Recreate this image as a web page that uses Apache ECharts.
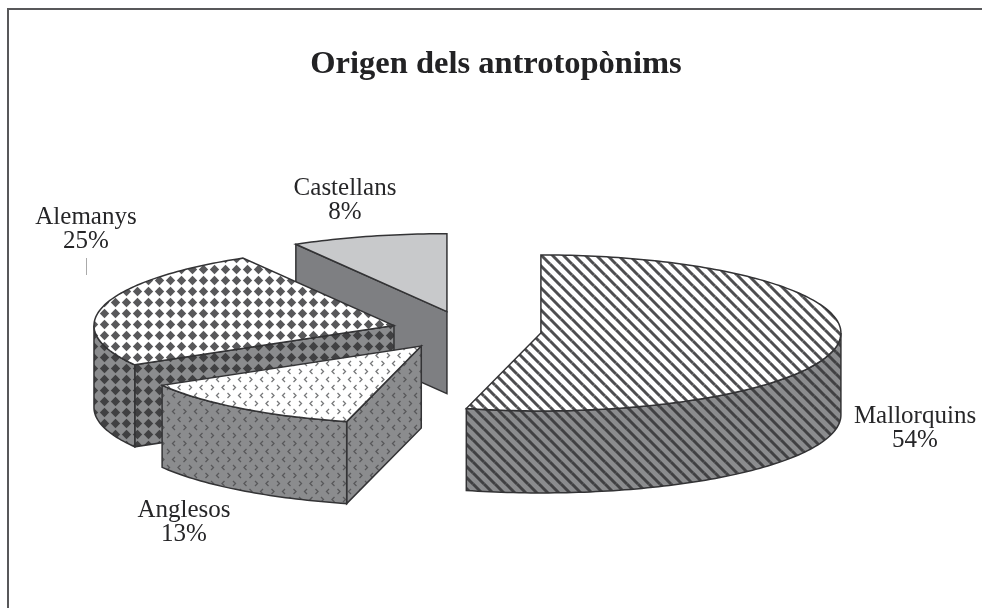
<!DOCTYPE html>
<html><head><meta charset="utf-8">
<style>html,body{margin:0;padding:0;background:#fff}#c{width:982px;height:608px}</style>
<script src="https://cdn.jsdelivr.net/npm/echarts@6/dist/echarts.min.js"></script>
</head><body><div id="c"></div>
<script>
var titleText = 'Origen dels antrotopònims';
var categories = ['Mallorquins', 'Anglesos', 'Alemanys', 'Castellans'];
var values = [54, 12.6, 25, 8.4];

// View of the tilted exploded pie (presentation only)
var view = { cx: 466.5, cy: 330.5, rx: 300, ry: 78, depth: 82, explode: 75 };
var drawRank = [4, 3, 2, 1];
var labelAnchors = [[915, 428], [184, 522], [86, 229], [345, 200]];
var FONT = '"Liberation Serif","Times New Roman",serif';
var INK = '#333335';

function tile(w, h, bg, draw) {
  var c = document.createElement('canvas');
  c.width = w; c.height = h;
  var g = c.getContext('2d');
  g.fillStyle = bg; g.fillRect(0, 0, w, h);
  draw(g);
  return { image: c, repeat: 'repeat' };
}
function stripes(bg, fg) {
  return tile(11, 11, bg, function (g) {
    g.strokeStyle = fg; g.lineWidth = 3;
    [[-11, -11], [0, 0], [-11, 0], [0, -11], [11, 0], [0, 11]].forEach(function (o) {
      g.beginPath(); g.moveTo(o[0], o[1]); g.lineTo(o[0] + 11, o[1] + 11); g.stroke();
    });
  });
}
function diamonds(bg, fg) {
  return tile(11, 11, bg, function (g) {
    g.fillStyle = fg;
    g.beginPath(); g.moveTo(5.5, 0.8); g.lineTo(10.2, 5.5); g.lineTo(5.5, 10.2); g.lineTo(0.8, 5.5); g.closePath(); g.fill();
  });
}
function chevrons(bg, fg) {
  return tile(22, 16, bg, function (g) {
    g.strokeStyle = fg; g.lineWidth = 1.3;
    function lt(x, y) { g.beginPath(); g.moveTo(x + 2.5, y); g.lineTo(x, y + 2.5); g.lineTo(x + 2.5, y + 5); g.stroke(); }
    function gt(x, y) { g.beginPath(); g.moveTo(x, y); g.lineTo(x + 2.5, y + 2.5); g.lineTo(x, y + 5); g.stroke(); }
    lt(2, 1); gt(13, 1); gt(7.5, 9); lt(18.5, 9);
  });
}
var topFill = [stripes('#ffffff', '#4e4e50'), chevrons('#ffffff', '#77787a'), diamonds('#ffffff', '#58585a'), '#c8c9cb'];
var wallFill = [stripes('#8b8c8e', '#414143'), chevrons('#8b8c8e', '#58585a'), diamonds('#8b8c8e', '#404042'), '#7e7f82'];

var total = values.reduce(function (a, b) { return a + b; }, 0);

function renderItem(params, api) {
  var i = params.dataIndex, before = 0;
  for (var k = 0; k < i; k++) before += values[k];
  var a0 = before / total * 2 * Math.PI;
  var a1 = (before + api.value(0)) / total * 2 * Math.PI;
  var mid = (a0 + a1) / 2;
  var ox = view.cx + view.explode * Math.sin(mid);
  var oy = view.cy - view.explode * Math.cos(mid) * view.ry / view.rx;
  function rim(a) { return [ox + view.rx * Math.sin(a), oy - view.ry * Math.cos(a)]; }
  function arc(from, to) {
    var n = Math.max(2, Math.ceil(Math.abs(to - from) / 0.02)), out = [];
    for (var s = 0; s <= n; s++) out.push(rim(from + (to - from) * s / n));
    return out;
  }
  function drop(pts) { return pts.map(function (p) { return [p[0], p[1] + view.depth]; }); }
  var z = drawRank[i] * 10;
  var kids = [];
  function poly(points, fill) {
    kids.push({
      type: 'polygon', shape: { points: points }, z2: z + kids.length,
      style: { fill: fill, stroke: INK, lineWidth: 1.5, lineJoin: 'miter' }
    });
  }
  var apex = [ox, oy];
  var w = wallFill[i];
  // cut face on the start edge, visible when that edge lies left of the axis
  if (a0 > Math.PI) {
    var e0 = [apex, rim(a0)];
    poly(e0.concat(drop(e0).reverse()), w);
  }
  // cut face on the end edge, visible when that edge lies on the front right
  if (a1 < Math.PI) {
    var e1 = [apex, rim(a1)];
    poly(e1.concat(drop(e1).reverse()), w);
  }
  // outer wall on the front half of the rim
  var f0 = Math.max(a0, Math.PI / 2), f1 = Math.min(a1, 1.5 * Math.PI);
  if (f1 > f0) {
    var front = arc(f0, f1);
    poly(front.concat(drop(front).reverse()), w);
  }
  poly([apex].concat(arc(a0, a1)), topFill[i]);
  kids.push({
    type: 'text', z2: 100,
    style: {
      x: labelAnchors[i][0], y: labelAnchors[i][1],
      text: categories[i] + '\n' + Math.round(api.value(0)) + '%',
      font: '25px ' + FONT, lineHeight: 24, fill: '#262628',
      align: 'center', verticalAlign: 'middle'
    }
  });
  return { type: 'group', children: kids };
}

var chart = echarts.init(document.getElementById('c'), null, { renderer: 'canvas' });
chart.setOption({
  animation: false,
  backgroundColor: '#ffffff',
  title: {
    text: titleText, left: 496, top: 48, padding: 0, textAlign: 'center',
    textStyle: { fontFamily: FONT, fontWeight: 'bold', fontSize: 32.5, color: '#222224' }
  },
  graphic: [
    { type: 'polyline', silent: true, shape: { points: [[8, 608], [8, 9], [982, 9]] }, style: { fill: 'none', stroke: '#58585a', lineWidth: 2 } },
    { type: 'line', silent: true, shape: { x1: 86.5, y1: 258, x2: 86.5, y2: 275 }, style: { stroke: '#aaaaaa', lineWidth: 1 } }
  ],
  series: [{
    type: 'custom', coordinateSystem: 'none', silent: true,
    renderItem: renderItem,
    data: values.map(function (v) { return [v]; })
  }]
});
</script></body></html>
